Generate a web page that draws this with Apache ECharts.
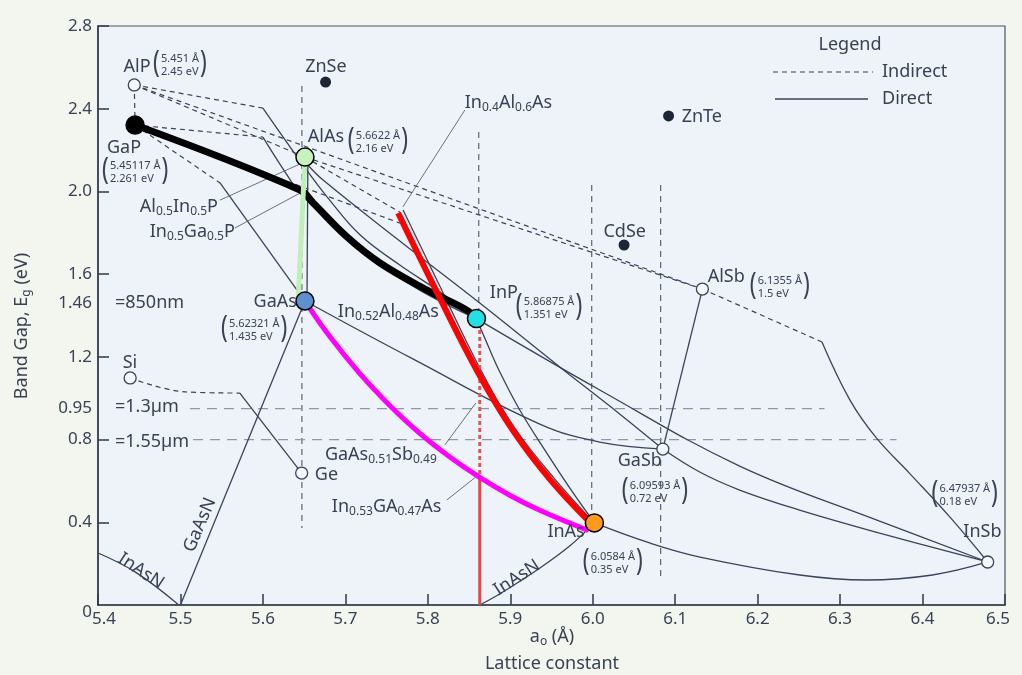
<!DOCTYPE html>
<html>
<head>
<meta charset="utf-8">
<title>Band gap vs lattice constant</title>
<script src="https://cdn.jsdelivr.net/npm/echarts@6/dist/echarts.min.js"></script>
<style>
  html, body { margin: 0; padding: 0; background: #f3f6ef; }
  #chart { width: 1022px; height: 675px; }
</style>
</head>
<body>
<div id="chart"></div>
<script>
// ---------- binaries: [lattice constant a0 (Å), band gap Eg (eV)] ----------
const AlP  = [5.444, 2.515];
const GaP  = [5.445, 2.321];
const AlAs = [5.651, 2.166];
const GaAs = [5.651, 1.470];
const InP  = [5.859, 1.385];
const InAs = [6.002, 0.397];
const GaSb = [6.085, 0.754];
const AlSb = [6.133, 1.528];
const InSb = [6.479, 0.208];
const Si   = [5.439, 1.098];
const Ge   = [5.647, 0.638];
const ZnSe = [5.676, 2.529];
const ZnTe = [6.092, 2.365];
const CdSe = [6.038, 1.741];

// ---------- indirect-gap branches (dashed) ----------
const indAlP_GaP   = [AlP, GaP];
const indAlP_AlAs  = [AlP, AlAs];
const indAlP_AlSb  = [AlP, AlSb];
const indAlAs_AlSb = [AlAs, AlSb];
const indAlP_InP   = [AlP, [5.600, 2.403]];
const indGaP_InP   = [GaP, [5.600, 2.263]];
const indGaP_GaAs  = [GaP, [5.548, 2.041]];
const indGaP_InAs  = [GaP, [5.766, 1.847]];
const indAlAs_InAs = [AlAs, [5.766, 1.900]];
const indAlSb_InSb = [AlSb, [6.278, 1.272]];
const indSi_Ge     = [Si, [5.508, 1.030], [5.572, 1.025]];

// ---------- direct-gap branches (solid) ----------
const dirAlP_InP   = [[5.600, 2.403], [5.647, 2.137], [5.681, 1.958], [5.718, 1.789], [5.766, 1.644], [5.815, 1.514], InP];
const dirGaP_InP   = [[5.600, 2.263], [5.623, 2.118], [5.645, 1.992], [5.682, 1.852], [5.730, 1.683], [5.790, 1.523], InP];
const dirGaP_GaAs  = [[5.548, 2.041], GaAs];
const dirAlAs_GaAs = [[5.6545, 2.128], [5.6535, 1.50]];
const dirAlAs_InAs = [[5.770, 1.910], [5.8145, 1.543], [5.863, 1.146], [5.9055, 0.856], [5.954, 0.609], InAs];
const dirInP_InAs  = [InP, [5.8727, 1.257], [5.8873, 1.127], [5.9115, 0.943], [5.9418, 0.750], [5.9721, 0.566], InAs];
const dirGaAs_GaSb = [GaAs, [5.7818, 1.190], [5.9358, 0.875], [6.0085, 0.788], GaSb];
const dirAlAs_GaSb = [[5.6545, 2.128], [5.673, 2.055], [5.766, 1.760], [5.863, 1.460], [5.960, 1.151], [6.033, 0.923], GaSb];
const dirInP_InSb  = [InP, [6.0085, 1.040], [6.1782, 0.672], [6.3479, 0.406], InSb];
const dirGaSb_InSb = [GaSb, [6.1297, 0.643], [6.1782, 0.556], [6.2509, 0.459], [6.3479, 0.348], InSb];
const dirAlSb_GaSb = [AlSb, GaSb];
const dirAlSb_InSb = [[6.278, 1.272], [6.312, 0.991], [6.344, 0.808], [6.384, 0.638], [6.433, 0.426], InSb];
const dirInAs_InSb = [InAs, [6.069, 0.300], [6.130, 0.232], [6.251, 0.145], [6.332, 0.121], [6.412, 0.145], InSb];
const dirSi_Ge     = [[5.572, 1.025], Ge];
const dirGaAsN     = [[5.5, 0], GaAs];
const dirInAsN_lo  = [[5.4, 0.2515], [5.445, 0.160], [5.498, 0]];
const dirInAsN_hi  = [[5.863, 0], [5.887, 0.053], [5.936, 0.179], [5.972, 0.285], InAs];

// ---------- highlighted ternaries ----------
const hlInGaP   = [GaP, [5.645, 2.007], [5.661, 1.944], [5.702, 1.780], [5.742, 1.654], [5.799, 1.523], [5.847, 1.427], InP];
const hlAlGaAs  = [AlAs, [5.643, 1.49]];
const hlInGaAs  = [GaAs, [5.6812, 1.298], [5.7176, 1.119], [5.7539, 0.965], [5.7903, 0.830], [5.8267, 0.716], [5.8630, 0.617], [5.8994, 0.531], [5.9358, 0.458], [5.9927, 0.363]];
const hlInAlAs  = [[5.764, 1.896], [5.8109, 1.514], [5.8606, 1.127], [5.903, 0.846], [5.9479, 0.609], [5.9964, 0.401]];
const hlInPdot  = [[5.863, 1.33], [5.863, 0.619]];
const hlInPline = [[5.863, 0.619], [5.863, 0]];

// ---------- lattice-match and wavelength guides ----------
const guideGaAs  = [[5.6473, 2.51], [5.6473, 0.372]];
const guideInP   = [[5.8618, 2.287], [5.8618, 1.43]];
const guideInAs  = [[5.9988, 2.031], [5.9988, 0.435]];
const guideGaSb  = [[6.0824, 2.031], [6.0824, 0.131]];
const guide13um  = [[5.5115, 0.95], [6.2812, 0.95]];
const guide155um = [[5.5152, 0.80], [6.3685, 0.80]];

// ---------- axis ticks ----------
const yTickValues = [0, 0.4, 0.8, 0.95, 1.2, 1.46, 1.6, 2.0, 2.4, 2.8];
const yTickLabels = ['0', '0.4', '0.8', '0.95', '1.2', '1.46', '1.6', '2.0', '2.4', '2.8'];
const yTickMarks  = [0.4, 0.8, 1.2, 1.6, 2.0, 2.4, 2.8];

// ---------- text ----------
const nameLabels = [
  { p: ['AlP'], at: [5.4473, 2.6015], align: 'center' },
  { p: ['ZnSe'], at: [5.6764, 2.6015], align: 'center' },
  { p: ['GaP'], at: [5.4315, 2.210], align: 'center' },
  { p: ['AlAs'], at: [5.6545, 2.263], align: 'left' },
  { p: ['In', '0.4', 'Al', '0.6', 'As'], at: [5.8448, 2.4275], align: 'left' },
  { p: ['ZnTe'], at: [6.1079, 2.3598], align: 'left' },
  { p: ['Al', '0.5', 'In', '0.5', 'P'], at: [5.5455, 1.9246], align: 'right' },
  { p: ['In', '0.5', 'Ga', '0.5', 'P'], at: [5.566, 1.8037], align: 'right' },
  { p: ['CdSe'], at: [6.0388, 1.8037], align: 'center' },
  { p: ['AlSb'], at: [6.1394, 1.586], align: 'left' },
  { p: ['=850nm'], at: [5.4206, 1.4604], align: 'left' },
  { p: ['GaAs'], at: [5.6412, 1.465], align: 'right' },
  { p: ['In', '0.52', 'Al', '0.48', 'As'], at: [5.6909, 1.418], align: 'left' },
  { p: ['InP'], at: [5.8752, 1.5087], align: 'left' },
  { p: ['Si'], at: [5.4388, 1.1702], align: 'center' },
  { p: ['=1.3µm'], at: [5.4206, 0.9575], align: 'left' },
  { p: ['=1.55µm'], at: [5.4206, 0.7882], align: 'left' },
  { p: ['GaAs', '0.51', 'Sb', '0.49'], at: [5.6752, 0.7253], align: 'left' },
  { p: ['Ge'], at: [5.663, 0.6286], align: 'left' },
  { p: ['In', '0.53', 'GA', '0.47', 'As'], at: [5.6836, 0.4739], align: 'left' },
  { p: ['GaSb'], at: [6.0303, 0.6963], align: 'left' },
  { p: ['InAs'], at: [5.9903, 0.353], align: 'right' },
  { p: ['InSb'], at: [6.4958, 0.353], align: 'right' },
  { p: ['InAsN'], at: [5.4521, 0.164], align: 'center', rot: -33 },
  { p: ['GaAsN'], at: [5.5236, 0.387], align: 'center', rot: 67 },
  { p: ['InAsN'], at: [5.9079, 0.131], align: 'center', rot: 33 }
];
const valueTags = [
  { l: ['5.451 Å', '2.45 eV'], at: [5.4667, 2.611] },
  { l: ['5.45117 Å', '2.261 eV'], at: [5.4048, 2.094] },
  { l: ['5.6622 Å', '2.16 eV'], at: [5.703, 2.239] },
  { l: ['6.1355 Å', '1.5 eV'], at: [6.1903, 1.5377] },
  { l: ['5.62321 Å', '1.435 eV'], at: [5.5491, 1.3298] },
  { l: ['5.86875 Å', '1.351 eV'], at: [5.9067, 1.4362] },
  { l: ['6.09593 Å', '0.72 eV'], at: [6.0352, 0.5464] },
  { l: ['6.0584 Å', '0.35 eV'], at: [5.9879, 0.2031] },
  { l: ['6.47937 Å', '0.18 eV'], at: [6.4109, 0.5319] }
];
const leaders = [
  [[5.8448, 2.393], [5.7697, 1.925]],
  [[5.5479, 1.958], [5.6473, 2.137]],
  [[5.566, 1.823], [5.645, 1.992]],
  [[5.8206, 0.7737], [5.8582, 0.9768]],
  [[5.823, 0.5077], [5.8582, 0.619]]
];

// ---------- drawing ----------
const INK = '#39435a';
const TXT = '#384254';
const F = "'Noto Sans', 'Open Sans', sans-serif";

const solid  = { color: INK, width: 1.3, type: 'solid' };
const dashed = { color: INK, width: 1.2, type: [5, 4] };

function curve(name, data, lineStyle, z) {
  return {
    type: 'line', name, data, symbol: 'none', silent: true, animation: false,
    smooth: data.length > 2 ? 0.4 : false, lineStyle, z: z || 3
  };
}

const series = [];
[guideGaAs, guideInP, guideInAs, guideGaSb].forEach(d =>
  series.push(curve('guide', d, { color: '#4b5566', width: 1.1, type: [6, 5] }, 2)));
[guide13um, guide155um].forEach(d =>
  series.push(curve('guide', d, { color: '#9098a5', width: 1.2, type: [10, 7] }, 2)));
[indAlP_GaP, indAlP_AlAs, indAlP_AlSb, indAlAs_AlSb, indAlP_InP, indGaP_InP, indGaP_GaAs,
 indGaP_InAs, indAlAs_InAs, indAlSb_InSb, indSi_Ge].forEach(d =>
  series.push(curve('Indirect', d, dashed)));
[dirAlP_InP, dirGaP_InP, dirGaP_GaAs, dirAlAs_GaAs, dirAlAs_InAs, dirInP_InAs, dirGaAs_GaSb,
 dirAlAs_GaSb, dirInP_InSb, dirGaSb_InSb, dirAlSb_GaSb, dirAlSb_InSb, dirInAs_InSb, dirSi_Ge,
 dirGaAsN, dirInAsN_lo, dirInAsN_hi].forEach(d =>
  series.push(curve('Direct', d, solid)));
leaders.forEach(d => series.push(curve('leader', d, { color: '#59626f', width: 0.9 }, 3)));

series.push(curve('InP lattice match', hlInPdot, { color: '#e35454', width: 3, type: [4, 3] }, 4));
series.push(curve('InP lattice match', hlInPline, { color: '#e84444', width: 3 }, 4));
series.push(curve('InGaP', hlInGaP, { color: '#000000', width: 7, cap: 'round' }, 5));
series.push(curve('AlGaAs', hlAlGaAs, { color: '#bff0b8', width: 5, cap: 'round' }, 5));
series.push(curve('InGaAs', hlInGaAs, { color: '#ff00ff', width: 5, cap: 'round' }, 5));
series.push(curve('InAlAs', hlInAlAs, { color: '#ff0000', width: 6 }, 5));

series.push({
  type: 'scatter', data: [AlP, Si, Ge, GaSb, AlSb, InSb], symbolSize: 12, silent: true,
  animation: false, itemStyle: { color: '#f4f7fc', borderColor: INK, borderWidth: 1.3, opacity: 1 }, z: 6
});
series.push({
  type: 'scatter', data: [ZnSe, ZnTe, CdSe], symbolSize: 11, silent: true, animation: false,
  itemStyle: { color: '#1d2636', opacity: 1 }, z: 6
});
series.push({
  type: 'scatter', silent: true, animation: false, symbolSize: 18, z: 7,
  itemStyle: { borderColor: '#000000', borderWidth: 1.5, opacity: 1 },
  data: [
    { value: GaP, itemStyle: { color: '#000000' } },
    { value: AlAs, itemStyle: { color: '#c5f2bf' } },
    { value: GaAs, itemStyle: { color: '#5d90d0' } },
    { value: InP, itemStyle: { color: '#22e0e3' } },
    { value: InAs, itemStyle: { color: '#ff9a1c' } }
  ]
});

const chart = echarts.init(document.getElementById('chart'));
chart.setOption({
  backgroundColor: '#f3f6ef',
  animation: false,
  grid: { left: 98, right: 17, top: 26, bottom: 70, show: true,
          backgroundColor: '#eef3fa', borderColor: '#4a5566', borderWidth: 1.2 },
  xAxis: {
    type: 'value', min: 5.4, max: 6.5, interval: 0.1,
    axisLine: { show: true, lineStyle: { color: '#2f3a4b', width: 1.6 } },
    axisTick: { show: true, inside: true, length: 11, lineStyle: { color: '#2f3a4b', width: 1.5 } },
    splitLine: { show: false },
    axisLabel: {
      fontSize: 17, color: TXT, fontFamily: F, margin: 6,
      formatter: v => {
        const s = v.toFixed(1);
        if (Math.abs(v - 5.4) < 1e-6) return '{a|' + s + '}';
        if (Math.abs(v - 6.5) < 1e-6) return '{b|' + s + '}';
        return s;
      },
      rich: { a: { padding: [0, 0, 0, 12] }, b: { padding: [0, 14, 0, 0] } }
    }
  },
  yAxis: {
    type: 'value', min: 0, max: 2.8,
    axisLine: { show: true, lineStyle: { color: '#2f3a4b', width: 1.6 } },
    axisTick: { show: true, inside: true, length: 11, customValues: yTickMarks,
                lineStyle: { color: '#2f3a4b', width: 1.5 } },
    splitLine: { show: false },
    axisLabel: {
      fontSize: 17, color: TXT, fontFamily: F, margin: 6, customValues: yTickValues,
      formatter: v => {
        const i = yTickValues.findIndex(t => Math.abs(t - v) < 1e-6);
        const s = i >= 0 ? yTickLabels[i] : '';
        return v === 0 ? '{z|' + s + '}' : s;
      },
      rich: { z: { padding: [14, 0, 0, 0] } }
    }
  },
  series
});

// ---------- annotation layer ----------
const ctx = document.createElement('canvas').getContext('2d');
function textW(t, size) { ctx.font = size + 'px ' + F; return ctx.measureText(t).width; }
const rich = {
  n: { fontSize: 18, fontFamily: F, fill: TXT, lineHeight: 22 },
  s: { fontSize: 12, fontFamily: F, fill: TXT, lineHeight: 9, verticalAlign: 'bottom' }
};
function richText(parts) {
  return parts.map((t, i) => (i % 2 ? '{s|' : '{n|') + t + '}').join('');
}
const toPx = p => chart.convertToPixel({ gridIndex: 0 }, p);

const g = [];
nameLabels.forEach(lb => {
  const [x, y] = toPx(lb.at);
  g.push({
    type: 'text', x, y, z: 20, silent: true,
    rotation: (lb.rot || 0) * Math.PI / 180,
    style: { text: richText(lb.p), rich, align: lb.align, verticalAlign: 'middle', fill: TXT, fontFamily: F, fontSize: 18 }
  });
});
valueTags.forEach(v => {
  const [x, y] = toPx(v.at);
  const w = Math.max(textW(v.l[0], 11), textW(v.l[1], 11));
  const ps = { fontSize: 30, fontFamily: F, fill: TXT, align: 'left', verticalAlign: 'middle' };
  g.push({ type: 'text', x, y: y - 2, z: 20, silent: true, scaleX: 0.75, style: Object.assign({ text: '(' }, ps) });
  g.push({ type: 'text', x: x + 8, y, z: 20, silent: true,
           style: { text: v.l.join('\n'), fontSize: 11, lineHeight: 13, fontFamily: F, fill: TXT, align: 'left', verticalAlign: 'middle' } });
  g.push({ type: 'text', x: x + 9 + w, y: y - 2, z: 20, silent: true, scaleX: 0.75, style: Object.assign({ text: ')' }, ps) });
});

// axis titles
g.push({ type: 'text', x: 22, y: 326, rotation: Math.PI / 2, z: 20, silent: true,
         style: { text: '{n|Band Gap, E}{s|g}{n| (eV)}', rich, align: 'center', verticalAlign: 'middle' } });
g.push({ type: 'text', x: 552, y: 637, z: 20, silent: true,
         style: { text: '{n|a}{s|o}{n| (Å)}', rich, align: 'center', verticalAlign: 'middle' } });
g.push({ type: 'text', x: 552, y: 664, z: 20, silent: true,
         style: { text: 'Lattice constant', fontSize: 18, fontFamily: F, fill: TXT, align: 'center', verticalAlign: 'middle' } });

// legend
g.push({ type: 'text', x: 850, y: 45, z: 20, silent: true,
         style: { text: 'Legend', fontSize: 18, fontFamily: F, fill: TXT, align: 'center', verticalAlign: 'middle' } });
g.push({ type: 'line', z: 20, silent: true, shape: { x1: 773, y1: 72, x2: 873, y2: 72 },
         style: { stroke: INK, lineWidth: 1.2, lineDash: [5, 4] } });
g.push({ type: 'text', x: 882, y: 72, z: 20, silent: true,
         style: { text: 'Indirect', fontSize: 18, fontFamily: F, fill: TXT, align: 'left', verticalAlign: 'middle' } });
g.push({ type: 'line', z: 20, silent: true, shape: { x1: 775, y1: 99, x2: 868, y2: 99 },
         style: { stroke: INK, lineWidth: 1.3 } });
g.push({ type: 'text', x: 882, y: 99, z: 20, silent: true,
         style: { text: 'Direct', fontSize: 18, fontFamily: F, fill: TXT, align: 'left', verticalAlign: 'middle' } });

chart.setOption({ graphic: { elements: g } });
</script>
</body>
</html>
